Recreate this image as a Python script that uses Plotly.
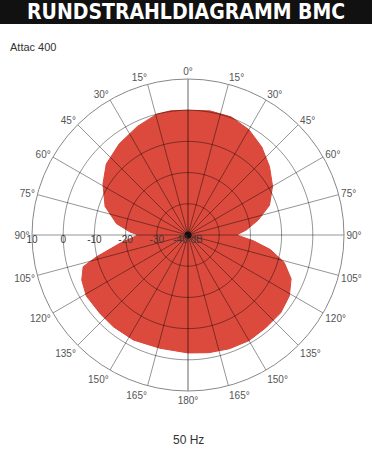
import plotly.graph_objects as go

W, H = 372, 463

# Polar pattern (angle clockwise from front, level in dB)
theta_deg = [0, 10, 20, 30, 40, 50, 60, 70, 78, 85, 90, 95, 100, 106, 113, 121,
             130, 140, 150, 160, 170, 180, 194, 207.5, 219, 228, 239, 247, 253.2,
             256.6, 263, 270, 273, 279, 289, 301, 311, 323, 335, 345.5, 352, 360]
level_db = [0.0, 0.4, 0.3, -1.0, -3.2, -5.9, -8.7, -12.2, -17.0, -21.2, -24.4, -19.0,
            -13.2, -7.9, -4.1, -2.1, -1.2, -1.2, -0.9, -1.2, -1.7, -2.2, -2.6, -2.05,
            -2.1, -2.2, -2.0, -3.0, -4.9, -9.9, -18.0, -24.0, -21.4, -16.8, -11.9,
            -8.2, -5.3, -3.4, -1.6, 0.0, 0.2, 0.0]

angle_ticks = list(range(0, 360, 15))
angle_labels = [f"{a if a <= 180 else 360 - a}°" for a in angle_ticks]
radial_ticks = [10, 0, -10, -20, -30, -40]
radial_labels = ["10", "0", "-10", "-20", "-30", "-40 dB"]

title_text = "RUNDSTRAHLDIAGRAMM BMC"
model_text = "Attac 400"
freq_text = "50 Hz"

grid = "rgba(0,0,0,0.42)"

fig = go.Figure()
fig.add_trace(go.Scatterpolar(
    r=level_db, theta=theta_deg, mode="lines", fill="toself",
    fillcolor="#db4a3d", line=dict(color="#d9473b", width=1),
    hoverinfo="skip", showlegend=False))

# grid drawn on top of the fill (spokes and rings)
for a in angle_ticks:
    fig.add_trace(go.Scatterpolar(
        r=[-40, 10], theta=[a, a], mode="lines",
        line=dict(color="rgba(0,0,0,0.6)" if a % 180 == 0 else grid, width=1),
        hoverinfo="skip", showlegend=False))
ring_theta = list(range(0, 361, 2))
for v in radial_ticks[1:-1]:
    fig.add_trace(go.Scatterpolar(
        r=[v] * len(ring_theta), theta=ring_theta, mode="lines",
        line=dict(color=grid, width=1), hoverinfo="skip", showlegend=False))

fig.add_trace(go.Scatterpolar(
    r=[-40], theta=[0], mode="markers",
    marker=dict(color="#111", size=7), hoverinfo="skip", showlegend=False))

# radial scale labels along the left horizontal line
fig.add_trace(go.Scatterpolar(
    r=radial_ticks, theta=[270] * len(radial_ticks), mode="text",
    text=radial_labels, textposition="bottom center",
    textfont=dict(family="Liberation Sans", size=10, color="#3a3a3a"),
    hoverinfo="skip", showlegend=False))

cx, cy, R = 188, 235, 156
fig.update_layout(
    width=W, height=H, margin=dict(l=0, r=0, t=0, b=0),
    paper_bgcolor="white", plot_bgcolor="white",
    polar=dict(
        domain=dict(x=[(cx - R) / W, (cx + R) / W], y=[1 - (cy + R) / H, 1 - (cy - R) / H]),
        bgcolor="white",
        angularaxis=dict(direction="clockwise", rotation=90,
                         tickvals=angle_ticks, ticktext=angle_labels,
                         showgrid=False,
                         showline=True, linecolor="#888", linewidth=1,
                         ticks="",
                         tickfont=dict(family="Liberation Sans", size=10, color="#555")),
        radialaxis=dict(range=[-40, 10], tickvals=radial_ticks,
                        showticklabels=False,
                        showgrid=False, showline=False, ticks=""),
    ),
    shapes=[dict(type="rect", xref="paper", yref="paper", x0=0, x1=1,
                 y0=1 - 24 / H, y1=1, fillcolor="#111", line=dict(width=0), layer="below")],
    annotations=[
        dict(text=f"<b>{title_text}</b>", x=0.5, y=1 - 12 / H, xref="paper", yref="paper",
             showarrow=False, xanchor="center", yanchor="middle",
             font=dict(family="DejaVu Sans Condensed", size=21, color="white")),
        dict(text=model_text, x=8 / W, y=1 - 47 / H, xref="paper", yref="paper",
             showarrow=False, xanchor="left", yanchor="middle",
             font=dict(family="Liberation Sans", size=11, color="#333")),
        dict(text=freq_text, x=cx / W, y=1 - 440 / H, xref="paper", yref="paper",
             showarrow=False, xanchor="center", yanchor="middle",
             font=dict(family="Liberation Sans", size=12, color="#333")),
    ],
)
fig.write_html("out.html")
